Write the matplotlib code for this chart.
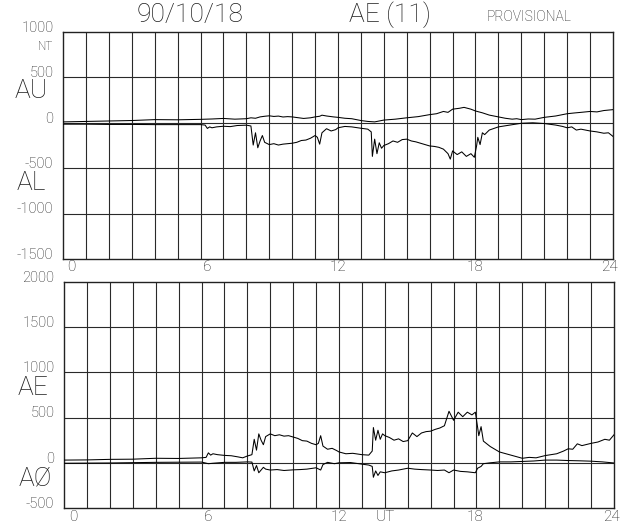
import matplotlib
matplotlib.use("Agg")
import matplotlib.pyplot as plt
import numpy as np

# ---------------- data (UT hours, nT) ----------------
au_t = [0, 1, 2, 3, 4, 5, 6, 6.5, 7, 7.5, 8.0, 8.2, 8.4, 8.6, 8.8, 9.0, 9.2, 9.4, 9.6, 9.8,
        10.0, 10.2, 10.5, 10.8, 11.0, 11.2, 11.3, 11.5, 11.8, 12.0, 12.3, 12.6, 13.0, 13.3,
        13.6, 13.8, 14.0, 14.5, 15.0, 15.5, 16.0, 16.3, 16.6, 16.8, 17.0, 17.3, 17.5, 17.8,
        18.0, 18.3, 18.6, 19.0, 19.3, 19.6, 19.8, 20.0, 20.3, 20.6, 21.0, 21.5, 22.0, 22.3,
        22.6, 23.0, 23.3, 23.6, 24.0]
au_v = [10, 15, 20, 25, 35, 33, 38, 42, 48, 40, 45, 55, 50, 65, 72, 77, 70, 74, 64, 68,
        65, 58, 48, 55, 65, 72, 84, 75, 65, 60, 50, 45, 25, 15,
        10, 20, 30, 40, 55, 68, 90, 100, 125, 115, 150, 160, 170, 150,
        130, 110, 85, 65, 50, 40, 45, 35, 42, 40, 60, 75, 100, 108,
        115, 125, 120, 135, 145]

al_t = [0, 1, 2, 3, 4, 5, 6.0, 6.2, 6.3, 6.4, 6.5, 6.7, 7.0, 7.3, 7.6, 8.0, 8.2, 8.3, 8.4,
        8.5, 8.6, 8.7, 8.8, 9.0, 9.2, 9.4, 9.6, 9.8, 10.0, 10.2, 10.4, 10.6, 10.8, 11.0,
        11.1, 11.2, 11.3, 11.5, 11.7, 11.9, 12.0, 12.3, 12.6, 13.0, 13.3, 13.45, 13.5, 13.6,
        13.7, 13.8, 13.9, 14.0, 14.2, 14.4, 14.6, 14.8, 15.0, 15.2, 15.4, 15.6, 15.8, 16.0,
        16.2, 16.4, 16.6, 16.8, 16.9, 17.0, 17.2, 17.4, 17.6, 17.8, 17.95, 18.05, 18.1, 18.2,
        18.3, 18.4, 18.6, 19.0, 19.5, 20.0, 20.5, 21.0, 21.5, 21.8, 22.0, 22.2, 22.4, 22.6,
        23.0, 23.3, 23.6, 23.8, 24.0]
al_v = [-15, -15, -18, -18, -20, -20, -20, -25, -62, -45, -55, -45, -38, -42, -30, -26, -35, -245, -110,
        -275, -200, -140, -215, -240, -230, -245, -235, -230, -225, -215, -195, -190, -170, -140,
        -160, -235, -110, -65, -90, -75, -55, -40, -45, -60, -70, -100, -370, -180,
        -340, -220, -280, -250, -230, -200, -215, -185, -180, -200, -210, -225, -240, -255,
        -260, -270, -290, -340, -400, -310, -350, -320, -370, -340, -380, -250, -160, -240,
        -110, -130, -80, -45, -25, -5, 0, -8, -25, -40, -55, -45, -80, -70,
        -90, -100, -115, -110, -150]

ae_t = [0, 1, 2, 3, 4, 5, 6.0, 6.2, 6.3, 6.4, 6.5, 6.7, 7.0, 7.3, 7.6, 7.8, 8.0, 8.2, 8.3,
        8.4, 8.5, 8.6, 8.7, 8.8, 9.0, 9.2, 9.4, 9.6, 9.8, 10.0, 10.2, 10.4, 10.6, 10.8, 11.0,
        11.1, 11.2, 11.3, 11.5, 11.7, 11.9, 12.0, 12.3, 12.6, 13.0, 13.3, 13.45, 13.5, 13.6,
        13.7, 13.8, 13.9, 14.0, 14.2, 14.4, 14.6, 14.8, 15.0, 15.2, 15.4, 15.6, 15.8, 16.0,
        16.2, 16.4, 16.6, 16.8, 16.9, 17.0, 17.2, 17.4, 17.6, 17.8, 17.95, 18.05, 18.1, 18.2,
        18.3, 18.4, 18.6, 19.0, 19.5, 20.0, 20.3, 20.6, 21.0, 21.5, 21.8, 22.0, 22.2, 22.4,
        22.6, 23.0, 23.3, 23.6, 23.8, 24.0]
ae_v = [30, 32, 38, 40, 50, 48, 55, 60, 110, 85, 100, 90, 82, 78, 65, 55, 75, 90, 260,
        140, 320, 250, 200, 290, 320, 300, 310, 295, 300, 285, 270, 245, 240, 215, 200,
        215, 300, 185, 150, 160, 135, 120, 100, 105, 90, 85, 130, 390, 250,
        360, 260, 320, 300, 280, 250, 265, 235, 245, 330, 290, 330, 345, 350,
        370, 385, 410, 570, 520, 470, 560, 510, 560, 530, 560, 390, 300, 400,
        240, 220, 180, 120, 85, 50, 60, 55, 80, 100, 130, 155, 150, 210,
        190, 215, 230, 260, 250, 310]

ao_t = [0, 2, 4, 6, 6.3, 6.5, 7, 7.5, 8.0, 8.2, 8.3, 8.4, 8.5, 8.7, 8.8, 9.0, 9.3, 9.6,
        10.0, 10.3, 10.6, 11.0, 11.2, 11.3, 11.5, 11.8, 12.0, 12.5, 13.0, 13.3, 13.45, 13.5,
        13.6, 13.7, 13.8, 14.0, 14.3, 14.6, 15.0, 15.3, 15.6, 16.0, 16.3, 16.6, 16.8, 17.0,
        17.3, 17.6, 17.95, 18.05, 18.2, 18.3, 18.6, 19.0, 19.5, 20.0, 20.5, 21.0, 21.5, 22.0,
        22.5, 23.0, 23.5, 24.0]
ao_v = [-5, -2, 5, 8, -10, -5, 5, 5, 10, 8, -90, -30, -110, -50, -70, -80, -75, -85,
        -78, -75, -70, -55, -80, -20, 5, -10, 0, 3, -15, -25, -40, -160,
        -90, -140, -100, -110, -90, -80, -60, -70, -75, -80, -85, -80, -110, -80,
        -95, -100, -110, -60, -40, -10, 0, 10, 10, 15, 20, 30, 30, 25,
        22, 18, 10, -2]

top_yticks = [1000, 500, 0, -500, -1000, -1500]
bot_yticks = [2000, 1500, 1000, 500, 0, -500]
xtick_labels = ["0", "6", "12", "18", "24"]

# ---------------- figure ----------------
W, H = 636, 529
fig = plt.figure(figsize=(W / 100, H / 100), dpi=100)
FONT = ["Roboto", "DejaVu Sans"]
TC = "#1e1e1e"

def fx(px):
    return px / W

def fy(py):
    return 1 - py / H

def make_axes(top_px, bot_px, left_px, right_px):
    return fig.add_axes([fx(left_px), fy(bot_px), fx(right_px) - fx(left_px),
                         (bot_px - top_px) / H])

ax1 = make_axes(32, 259, 63, 613)
ax2 = make_axes(282, 508, 64, 614)

grid_c = "#2a2a2a"
for ax, yt in ((ax1, top_yticks), (ax2, bot_yticks)):
    ax.set_xlim(0, 24)
    ax.set_ylim(min(yt), max(yt))
    for h in range(1, 24):
        ax.axvline(h, color=grid_c, lw=0.8, zorder=1)
    for v in yt[1:-1]:
        ax.axhline(v, color=grid_c, lw=0.8, zorder=1)
    ax.set_xticks([])
    ax.set_yticks([])
    for s in ax.spines.values():
        s.set_color("#222222")
        s.set_linewidth(1.0)
    for v in yt:
        ax.annotate(str(v), xy=(0, v), xycoords=("axes fraction", "data"),
                    xytext=(-7, 3), textcoords="offset points",
                    ha="right", va="center", fontsize=10.5, family=FONT,
                    fontweight="light", color=TC)

ax1.plot(au_t, au_v, color="black", lw=0.75, zorder=3)
ax1.plot(al_t, al_v, color="black", lw=0.75, zorder=3)
ax2.plot(ae_t, ae_v, color="black", lw=0.75, zorder=3)
ax2.plot(ao_t, ao_v, color="black", lw=0.75, zorder=3)

label_x_top = [(71, "0"), (207, "6"), (338, "12"), (475, "18"), (610, "24")]
for (px, lab) in label_x_top:
    fig.text(fx(px), fy(267), lab, ha="center", va="center", fontsize=11,
             family=FONT, fontweight="light", color=TC)
label_x_bot = [(73, "0"), (208, "6"), (339, "12"), (385, "UT"), (475, "18"), (611, "24")]
for (px, lab) in label_x_bot:
    fig.text(fx(px), fy(517), lab, ha="center", va="center", fontsize=11,
             family=FONT, fontweight="light", color=TC)

fig.text(fx(53), fy(47), "NT", ha="right", va="center", fontsize=8.5,
         family=FONT, fontweight="light", color=TC)

for (px, py, lab) in [(31, 91, "AU"), (31, 183, "AL"), (33, 388, "AE"), (35, 478, "AØ")]:
    fig.text(fx(px), fy(py), lab, ha="center", va="center", fontsize=19,
             family=FONT, color=TC, fontweight="light")

fig.text(fx(190), fy(15), "90/10/18", ha="center", va="center", fontsize=19,
         family=FONT, fontweight="light", color=TC)
fig.text(fx(390), fy(15), "AE (11)", ha="center", va="center", fontsize=19,
         family=FONT, fontweight="light", color=TC)
fig.text(fx(529), fy(17), "PROVISIONAL", ha="center", va="center", fontsize=10,
         family=FONT, fontweight="light", color=TC)

fig.savefig("out.png", dpi=100, facecolor="white")
